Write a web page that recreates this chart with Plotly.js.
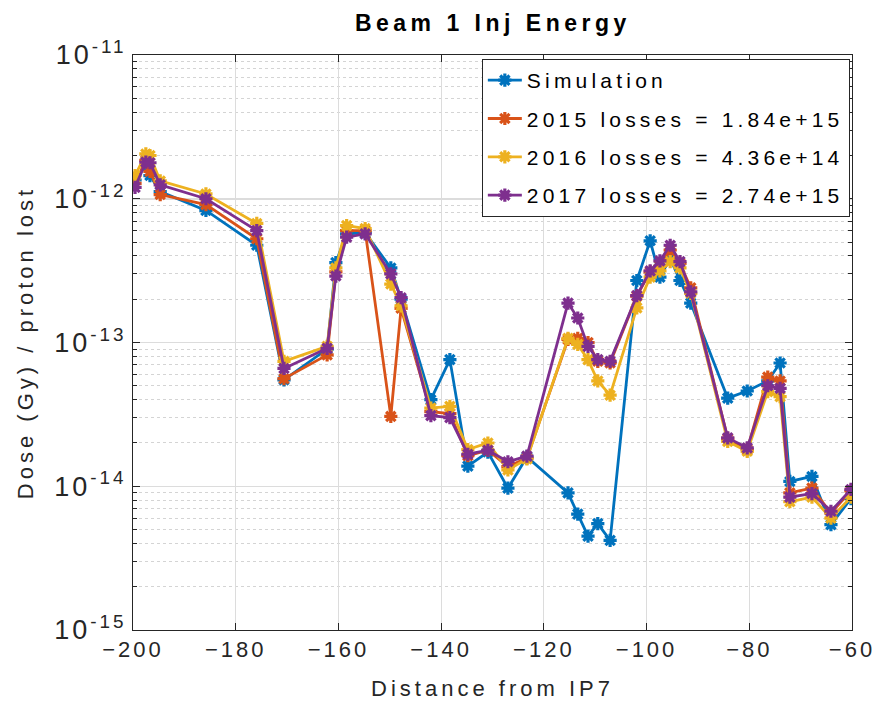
<!DOCTYPE html>
<html>
<head>
<meta charset="utf-8">
<script src="https://cdn.plot.ly/plotly-3.0.1.min.js"></script>
<style>
html,body{margin:0;padding:0;background:#fff;}
#chart{width:877px;height:704px;}
text{letter-spacing:3px;}
.gtitle{letter-spacing:4.5px;}
.xtitle,.ytitle{letter-spacing:4px;}
.legendtext{letter-spacing:4.2px;}
</style>
</head>
<body>
<div id="chart"></div>
<script>
const distance = [-199.6,-197.5,-196.7,-194.7,-185.8,-175.9,-170.6,-162.2,-160.5,-158.4,-154.8,-149.8,-147.8,-142.0,-138.3,-134.8,-130.9,-127.0,-123.3,-115.3,-113.4,-111.4,-109.5,-107.1,-101.9,-99.3,-97.4,-95.4,-93.5,-91.4,-84.2,-80.4,-76.4,-74.0,-72.1,-67.8,-64.1,-60.2];

const simulation = [1.35e-12,1.7e-12,1.45e-12,1.12e-12,0.83e-12,0.475e-12,5.5e-14,9.0e-14,3.6e-13,5.7e-13,5.8e-13,3.3e-13,2.0e-13,4.0e-14,7.6e-14,1.38e-14,1.73e-14,9.7e-15,1.6e-14,9.0e-15,6.4e-15,4.5e-15,5.5e-15,4.2e-15,2.7e-13,5.1e-13,2.85e-13,3.85e-13,2.7e-13,1.88e-13,4.1e-14,4.6e-14,5.4e-14,7.2e-14,1.08e-14,1.17e-14,5.4e-15,8.2e-15];

const losses2015 = [1.28e-12,1.85e-12,1.55e-12,1.07e-12,0.91e-12,0.527e-12,5.6e-14,8.2e-14,3.1e-13,6.0e-13,6.0e-13,3.06e-14,1.73e-13,3.3e-14,3.2e-14,1.63e-14,1.78e-14,1.37e-14,1.57e-14,1.05e-13,1.07e-13,1.0e-13,7.4e-14,7.2e-14,2.1e-13,3.1e-13,3.4e-13,4.4e-13,3.55e-13,2.4e-13,2.15e-14,1.8e-14,5.75e-14,5.4e-14,9.0e-15,9.7e-15,6.5e-15,9.3e-15];

const losses2016 = [1.45e-12,2.05e-12,2.0e-12,1.33e-12,1.08e-12,0.673e-12,7.4e-14,9.4e-14,3.3e-13,6.5e-13,6.2e-13,2.55e-13,1.8e-13,3.5e-14,3.6e-14,1.8e-14,2.0e-14,1.3e-14,1.55e-14,1.07e-13,0.97e-13,7.6e-14,5.4e-14,4.3e-14,1.74e-13,2.85e-13,3.15e-13,3.65e-13,3.3e-13,2.2e-13,2.05e-14,1.75e-14,4.55e-14,4.2e-14,7.8e-15,8.4e-15,6.0e-15,8.4e-15];

const losses2017 = [1.2e-12,1.8e-12,1.78e-12,1.25e-12,1.0e-12,0.60e-12,6.6e-14,9.1e-14,2.9e-13,5.4e-13,5.7e-13,3.0e-13,2.05e-13,3.1e-14,3.0e-14,1.67e-14,1.78e-14,1.48e-14,1.62e-14,1.88e-13,1.48e-13,0.94e-13,7.6e-14,7.4e-14,2.12e-13,3.15e-13,3.7e-13,4.75e-13,3.65e-13,2.25e-13,2.17e-14,1.85e-14,5.0e-14,4.8e-14,8.4e-15,8.9e-15,6.7e-15,9.5e-15];

const seriesNames = ['Simulation','2015 losses = 1.84e+15','2016 losses = 4.36e+14','2017 losses = 2.74e+15'];
const seriesColors = ['#0072BD','#D95319','#EDB120','#7E2F8E'];
const seriesData = [simulation, losses2015, losses2016, losses2017];

const yTickVals = [1e-15,1e-14,1e-13,1e-12,1e-11];
const yTickText = ['10<sup>-15</sup>','10<sup>-14</sup>','10<sup>-13</sup>','10<sup>-12</sup>','10<sup>-11</sup>'];
const xTickVals = [-200,-180,-160,-140,-120,-100,-80,-60];

const traces = seriesData.map((ys, i) => ({
  x: distance, y: ys, name: seriesNames[i], legendgroup: 'g' + i, type: 'scatter', mode: 'lines+markers',
  line: {color: seriesColors[i], width: 2.8},
  marker: {symbol: 'asterisk-open', size: 11, color: seriesColors[i], line: {color: seriesColors[i], width: 3.2}}
}));

const font = 'Liberation Sans, Arial, sans-serif';
const layout = {
  width: 877, height: 704,
  margin: {l: 133, r: 25, t: 55, b: 74},
  paper_bgcolor: '#fff', plot_bgcolor: '#fff',
  font: {family: font, color: '#262626'},
  title: {text: '<b>Beam 1 Inj Energy</b>', font: {family: font, size: 23, color: '#000'}, x: 0.562, xanchor: 'center', y: 0.968, yanchor: 'middle'},
  xaxis: {
    range: [-200, -60], tickvals: xTickVals, ticks: 'inside', ticklen: 7, tickcolor: '#262626',
    showline: true, mirror: 'ticks', linecolor: '#262626', linewidth: 1,
    showgrid: true, gridcolor: '#dcdcdc', gridwidth: 1, zeroline: false,
    tickfont: {size: 22, color: '#262626'},
    title: {text: 'Distance from IP7', font: {size: 22, color: '#262626'}, standoff: 19}
  },
  yaxis: {
    type: 'log', range: [-15, -11], tickvals: yTickVals, ticktext: yTickText,
    ticks: 'inside', ticklen: 7, tickcolor: '#262626',
    showline: true, mirror: 'ticks', linecolor: '#262626', linewidth: 1,
    showgrid: true, gridcolor: '#dcdcdc', gridwidth: 1.5, zeroline: false,
    tickfont: {size: 27, color: '#262626'},
    minor: {dtick: 'D1', showgrid: true, gridcolor: '#d4d4d4', griddash: 'dot', gridwidth: 1, ticks: 'inside', ticklen: 4, tickcolor: '#262626'},
    title: {text: 'Dose (Gy) / proton lost', font: {size: 22, color: '#262626'}, standoff: 14}
  },
  legend: {x: 0.997, xanchor: 'right', y: 0.993, yanchor: 'top', bgcolor: '#fff', bordercolor: '#262626', borderwidth: 1,
    font: {size: 21, color: '#000'}, tracegroupgap: 8, itemwidth: 34},
  showlegend: true
};
Plotly.newPlot('chart', traces, layout, {displayModeBar: false, staticPlot: true});
</script>
</body>
</html>
